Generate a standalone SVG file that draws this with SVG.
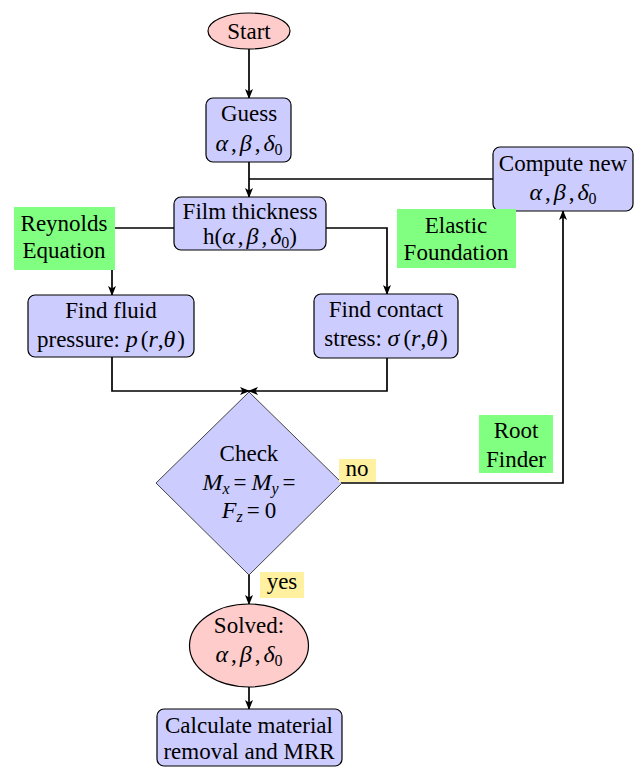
<svg xmlns="http://www.w3.org/2000/svg" width="638" height="768" viewBox="0 0 638 768">
<style>
.n{fill:#ccccff;stroke:#000;stroke-width:1.2}
.r{fill:#ffcccc;stroke:#000;stroke-width:1.2}
.g{fill:#80ff80;stroke:none}
.y{fill:#fff1a0;stroke:none}
.d{fill:#ccccff;stroke:#444;stroke-width:1}
.t{font-family:"Liberation Serif","DejaVu Serif","Times New Roman",serif;font-size:23px;text-anchor:middle;fill:#000}
.i{font-style:italic;font-size:24px}
.s{font-size:16px}
.c{fill:none;stroke:#000;stroke-width:1.7}
.a{marker-end:url(#ah)}
</style>
<defs>
<marker id="ah" viewBox="0 0 10 8" refX="9" refY="4" markerWidth="10" markerHeight="8" markerUnits="userSpaceOnUse" orient="auto">
<path d="M0,0 L10,4 L0,8 L2.5,4 z" fill="#000"/>
</marker>
</defs>
<g id="connectors">
<path class="c a" d="M249,49 V98"/>
<path class="c a" d="M249,162 V197"/>
<path class="c" d="M493,179 H249"/>
<path class="c a" d="M174,228 H112 V295"/>
<path class="c a" d="M326,228 H387 V294"/>
<path class="c a" d="M112,357 V391 H249"/>
<path class="c a" d="M387,358 V391 H249"/>
<path class="c a" d="M342,483 H563 V211"/>
<path class="c a" d="M249,575 V604"/>
<path class="c a" d="M249,687 V709"/>
</g>
<g id="start">
<ellipse class="r" cx="249" cy="31" rx="41" ry="18"/>
<text class="t" x="249" y="39">Start</text>
</g>
<g id="guess">
<rect class="n" x="206" y="98" width="85" height="64" rx="7"/>
<text class="t" x="249" y="121">Guess</text>
<text class="t" x="249" y="151"><tspan class="i">α</tspan><tspan dx="3">,</tspan><tspan class="i" dx="3">β</tspan><tspan dx="3">,</tspan><tspan class="i" dx="3">δ</tspan><tspan class="s" dy="4">0</tspan></text>
</g>
<g id="film">
<rect class="n" x="174" y="197" width="152" height="53" rx="7"/>
<text class="t" x="250" y="219">Film thickness</text>
<text class="t" x="250" y="244">h(<tspan class="i">α</tspan><tspan dx="3">,</tspan><tspan class="i" dx="3">β</tspan><tspan dx="3">,</tspan><tspan class="i" dx="3">δ</tspan><tspan class="s" dy="4">0</tspan><tspan dy="-4">)</tspan></text>
</g>
<g id="reynolds">
<rect class="g" x="14" y="207" width="101" height="63"/>
<text class="t" x="64" y="231">Reynolds</text>
<text class="t" x="64" y="258">Equation</text>
</g>
<g id="fluid">
<rect class="n" x="28" y="295" width="166" height="62" rx="7"/>
<text class="t" x="111" y="318">Find fluid</text>
<text class="t" x="111" y="347">pressure: <tspan class="i">p</tspan><tspan dx="3">(</tspan><tspan class="i">r</tspan>,<tspan class="i">θ</tspan><tspan dx="2">)</tspan></text>
</g>
<g id="contact">
<rect class="n" x="314" y="294" width="144" height="64" rx="7"/>
<text class="t" x="386" y="317">Find contact</text>
<text class="t" x="386" y="346">stress: <tspan class="i">σ</tspan><tspan dx="4">(</tspan><tspan class="i">r</tspan>,<tspan class="i">θ</tspan><tspan dx="2">)</tspan></text>
</g>
<g id="compute">
<rect class="n" x="493" y="147" width="140" height="64" rx="7"/>
<text class="t" x="563" y="171">Compute new</text>
<text class="t" x="563" y="200"><tspan class="i">α</tspan><tspan dx="3">,</tspan><tspan class="i" dx="3">β</tspan><tspan dx="3">,</tspan><tspan class="i" dx="3">δ</tspan><tspan class="s" dy="4">0</tspan></text>
</g>
<g id="elastic">
<rect class="g" x="397" y="209" width="119" height="59"/>
<text class="t" x="456" y="233">Elastic</text>
<text class="t" x="456" y="260">Foundation</text>
</g>
<g id="check">
<path class="d" d="M249,392 L342,483 L249,575 L156,483 Z"/>
<text class="t" x="249" y="461">Check</text>
<text class="t" x="249" y="490"><tspan class="i">M</tspan><tspan class="s i" dy="4">x</tspan><tspan dy="-4" dx="4">=</tspan><tspan class="i" dx="5">M</tspan><tspan class="s i" dy="4">y</tspan><tspan dy="-4" dx="4">=</tspan></text>
<text class="t" x="249" y="518"><tspan class="i">F</tspan><tspan class="s i" dy="4">z</tspan><tspan dy="-4" dx="4">=</tspan><tspan dx="5">0</tspan></text>
</g>
<g id="no">
<rect class="y" x="339" y="459" width="37" height="23"/>
<text class="t" x="357" y="476">no</text>
</g>
<g id="root">
<rect class="g" x="479" y="415" width="74" height="58"/>
<text class="t" x="516" y="438">Root</text>
<text class="t" x="516" y="467">Finder</text>
</g>
<g id="yes">
<rect class="y" x="260" y="572" width="44" height="26"/>
<text class="t" x="282" y="589">yes</text>
</g>
<g id="solved">
<ellipse class="r" cx="249" cy="645.5" rx="59.5" ry="41.5"/>
<text class="t" x="249" y="633">Solved:</text>
<text class="t" x="249" y="662"><tspan class="i">α</tspan><tspan dx="3">,</tspan><tspan class="i" dx="3">β</tspan><tspan dx="3">,</tspan><tspan class="i" dx="3">δ</tspan><tspan class="s" dy="4">0</tspan></text>
</g>
<g id="calc">
<rect class="n" x="157" y="709" width="185" height="57" rx="7"/>
<text class="t" x="249" y="733">Calculate material</text>
<text class="t" x="249" y="759">removal and MRR</text>
</g>
</svg>
